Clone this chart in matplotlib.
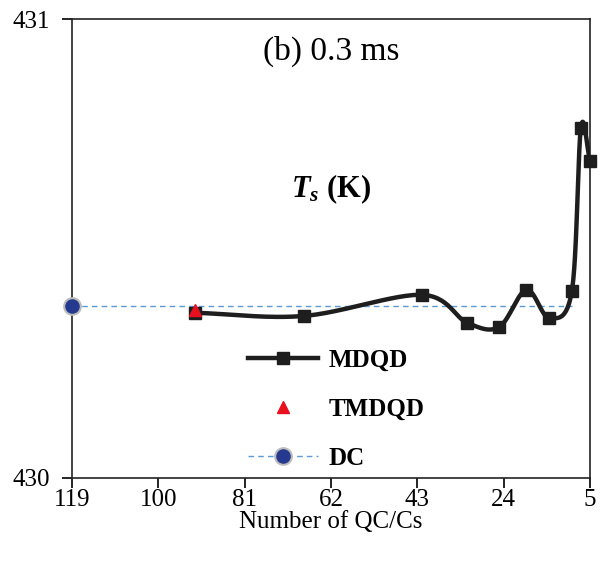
import numpy as np
import matplotlib
matplotlib.use("Agg")
import matplotlib.pyplot as plt

plt.rcParams['font.family'] = ['Liberation Serif', 'DejaVu Serif']
plt.rcParams['mathtext.fontset'] = 'custom'
plt.rcParams['mathtext.it'] = 'Liberation Serif:italic:bold'
plt.rcParams['mathtext.rm'] = 'Liberation Serif:bold'

# data
mdqd_n = [92, 68, 42, 32, 25, 19, 14, 9, 7, 5]
mdqd_t = [430.360, 430.353, 430.399, 430.338, 430.329, 430.410, 430.349, 430.407, 430.763, 430.691]
tmdqd_n = [92]
tmdqd_t = [430.366]
dc_n = [119, 9]
dc_t = [430.375, 430.375]
xticks = [119, 100, 81, 62, 43, 24, 5]


def smooth(x, y, steps=30):
    # Catmull-Rom spline through the points (like Excel's smoothed line)
    x = np.asarray(x, float)
    y = np.asarray(y, float)
    px = np.concatenate([[2 * x[0] - x[1]], x, [2 * x[-1] - x[-2]]])
    py = np.concatenate([[2 * y[0] - y[1]], y, [2 * y[-1] - y[-2]]])
    xs, ys = [], []
    t = np.linspace(0, 1, steps)
    for i in range(1, len(px) - 2):
        for p, out in ((px, xs), (py, ys)):
            p0, p1, p2, p3 = p[i - 1], p[i], p[i + 1], p[i + 2]
            out.extend(0.5 * (2 * p1 + (-p0 + p2) * t
                              + (2 * p0 - 5 * p1 + 4 * p2 - p3) * t ** 2
                              + (-p0 + 3 * p1 - 3 * p2 + p3) * t ** 3))
    return xs, ys


fig = plt.figure(figsize=(6.06, 5.64), dpi=100)
ax = fig.add_axes([0.1188, 0.1525, 0.8548, 0.8138])

sx, sy = smooth(mdqd_n, mdqd_t)
ax.plot(dc_n, dc_t, linestyle=(0, (4, 3)), color='#5b9bd5', lw=1.0,
        marker='o', markevery=[0], markersize=12, markerfacecolor='#253a8e',
        markeredgecolor='#bcbcbc', markeredgewidth=1.5, clip_on=False, zorder=3)
ax.plot(sx, sy, color='#1e1e1e', lw=3.2, zorder=4)
ax.plot(mdqd_n, mdqd_t, 's', color='#1e1e1e', markersize=9, zorder=5, clip_on=False)
ax.plot(tmdqd_n, tmdqd_t, '^', color='#e8101e', markersize=9, zorder=6)

# legend proxies
h1, = ax.plot([], [], color='#1e1e1e', lw=3.2, marker='s', markersize=9)
h2, = ax.plot([], [], '^', color='#e8101e', markersize=9)
h3, = ax.plot([], [], linestyle=(0, (4, 3)), color='#5b9bd5', lw=1.0, marker='o',
              markersize=12, markerfacecolor='#253a8e', markeredgecolor='#bcbcbc',
              markeredgewidth=1.5)
ax.legend([h1, h2, h3], ['MDQD', 'TMDQD', 'DC'], loc='center', bbox_to_anchor=(0.51, 0.15),
          frameon=False, prop={'weight': 'bold', 'size': 18}, handlelength=2.8,
          labelspacing=1.05, handletextpad=0.4)

ax.set_xlim(119, 5)
ax.set_ylim(430, 431)
ax.set_xticks(xticks)
ax.set_yticks([430, 431])
ax.tick_params(axis='both', direction='out', length=7, width=1.2, labelsize=18, pad=1)
ax.tick_params(axis='y', pad=9)
for s in ax.spines.values():
    s.set_linewidth(1.2)
    s.set_color('#222222')
ax.set_xlabel('Number of QC/Cs', fontsize=18, labelpad=0)

ax.text(0.5, 0.93, '(b) 0.3 ms', transform=ax.transAxes, ha='center', va='center', fontsize=24)
ax.text(0.5, 0.63, r'$T_s$ (K)', transform=ax.transAxes, ha='center', va='center',
        fontsize=22, fontweight='bold')

fig.savefig('out.png', dpi=100)
